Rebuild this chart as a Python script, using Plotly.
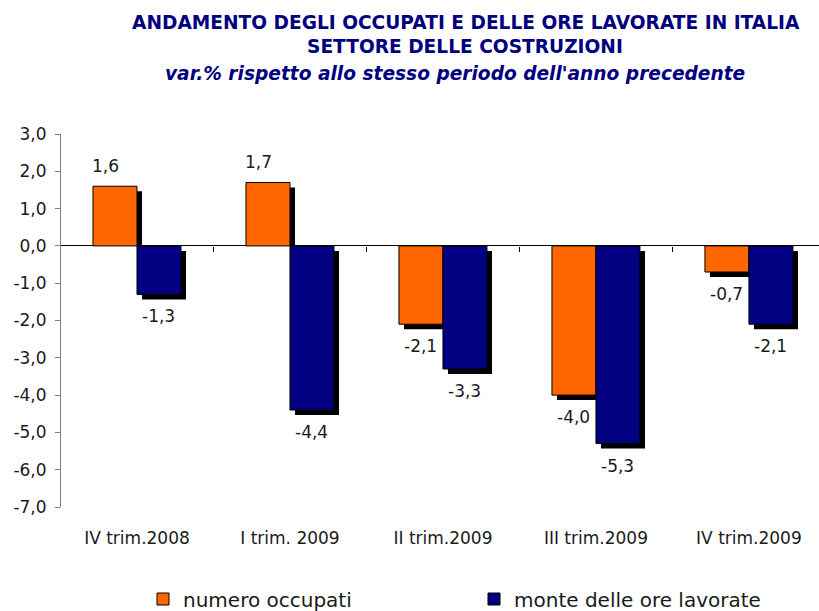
import plotly.graph_objects as go

categories = ["IV trim.2008", "I trim. 2009", "II trim.2009", "III trim.2009", "IV trim.2009"]
occupati = [1.6, 1.7, -2.1, -4.0, -0.7]
ore = [-1.3, -4.4, -3.3, -5.3, -2.1]
series_names = ["numero occupati", "monte delle ore lavorate"]
ytick_vals = [3, 2, 1, 0, -1, -2, -3, -4, -5, -6, -7]
ytick_text = ["3,0", "2,0", "1,0", "0,0", "-1,0", "-2,0", "-3,0", "-4,0", "-5,0", "-6,0", "-7,0"]

ORANGE = "#FF6600"
NAVY = "#000080"
FONT = "DejaVu Sans"
TXT = "#1a1a1a"

W = 0.2876   # bar width in category units
DX = 0.033   # shadow x offset
DY = 0.134   # shadow y offset

L, R, T, B = 61, 0, 134, 104
PW, PH = 819 - L - R, 611 - T - B

def px_x(p):
    return (p - L) / PW

def px_y(p):
    return (611 - p - B) / PH

xs = list(range(len(categories)))
fig = go.Figure()

def fmt(v):
    return f"{v:.1f}".replace(".", ",")

# shadows
for vals, off in [(occupati, -W), (ore, 0.0)]:
    base = [-DY if v < 0 else 0 for v in vals]
    ys = [v if v < 0 else v - DY for v in vals]
    fig.add_trace(go.Bar(x=xs, y=ys, base=base, width=[W] * len(xs), offset=off + DX,
                         marker=dict(color="black", line=dict(width=0)),
                         showlegend=False, hoverinfo="skip"))

# bars
for vals, off, col, name, lg in [(occupati, -W, ORANGE, series_names[0], "legend"),
                                 (ore, 0.0, NAVY, series_names[1], "legend2")]:
    fig.add_trace(go.Bar(x=xs, y=vals, width=[W] * len(xs), offset=off, name=name, legend=lg,
                         marker=dict(color=col, line=dict(color="black", width=1))))

# value labels
for vals, off in [(occupati, -W / 2), (ore, W / 2)]:
    for x, v in zip(xs, vals):
        fig.add_annotation(x=x + off, y=v, text=fmt(v), showarrow=False,
                           xref="x", yref="y",
                           yshift=20 if v > 0 else -22,
                           xshift=-9 if v > 0 else 0,
                           font=dict(family=FONT, size=17, color=TXT))

# titles
for text, cx, cy in [("<b>ANDAMENTO DEGLI OCCUPATI E DELLE ORE LAVORATE IN ITALIA</b>", 466, 22),
                     ("<b>SETTORE DELLE COSTRUZIONI</b>", 465, 46),
                     ("<b><i>var.% rispetto allo stesso periodo dell'anno precedente</i></b>", 455, 74)]:
    fig.add_annotation(x=px_x(cx), y=px_y(cy), xref="paper", yref="paper", text=text,
                       xanchor="center", yanchor="middle", showarrow=False,
                       font=dict(family=FONT, size=18.6, color=NAVY))

fig.update_layout(
    width=819, height=611,
    margin=dict(l=L, r=R, t=T, b=B, autoexpand=False),
    paper_bgcolor="white", plot_bgcolor="white",
    barmode="overlay",
    font=dict(family=FONT, size=17, color=TXT),
    xaxis=dict(range=[-0.4967, 4.458], tickvals=xs, ticktext=categories,
               showgrid=False, zeroline=False, showline=False,
               ticks="outside", ticklen=16, tickcolor="rgba(0,0,0,0)",
               tickfont=dict(family=FONT, size=17, color=TXT)),
    xaxis2=dict(range=[-0.4967, 4.458], overlaying="x", anchor="free", position=0.7,
                tickvals=[-0.5, 0.5, 1.5, 2.5, 3.5, 4.5], showticklabels=False,
                ticks="outside", ticklen=5, tickcolor="black", showgrid=False,
                showline=False, zeroline=False),
    yaxis=dict(range=[-7, 3], tickvals=ytick_vals, ticktext=ytick_text,
               showgrid=False, zeroline=True, zerolinecolor="black", zerolinewidth=1,
               showline=True, linecolor="#808080", linewidth=1,
               ticks="outside", ticklen=5, tickcolor="#808080",
               ticklabelstandoff=5,
               tickfont=dict(family=FONT, size=17, color=TXT)),
    legend=dict(x=px_x(143), y=px_y(599), xanchor="left", yanchor="middle",
                font=dict(family=FONT, size=20, color=TXT), bgcolor="rgba(0,0,0,0)"),
    legend2=dict(x=px_x(474), y=px_y(599), xanchor="left", yanchor="middle",
                 font=dict(family=FONT, size=20, color=TXT), bgcolor="rgba(0,0,0,0)"),
    showlegend=True,
)
# invisible trace so the zero-line tick axis is drawn
fig.add_trace(go.Scatter(x=[0], y=[0], xaxis="x2", mode="markers", marker=dict(opacity=0),
                         showlegend=False, hoverinfo="skip"))

fig.write_html("out.html", config={"displayModeBar": False},
               post_script="document.body.style.margin='0';document.body.style.overflow='hidden';")
